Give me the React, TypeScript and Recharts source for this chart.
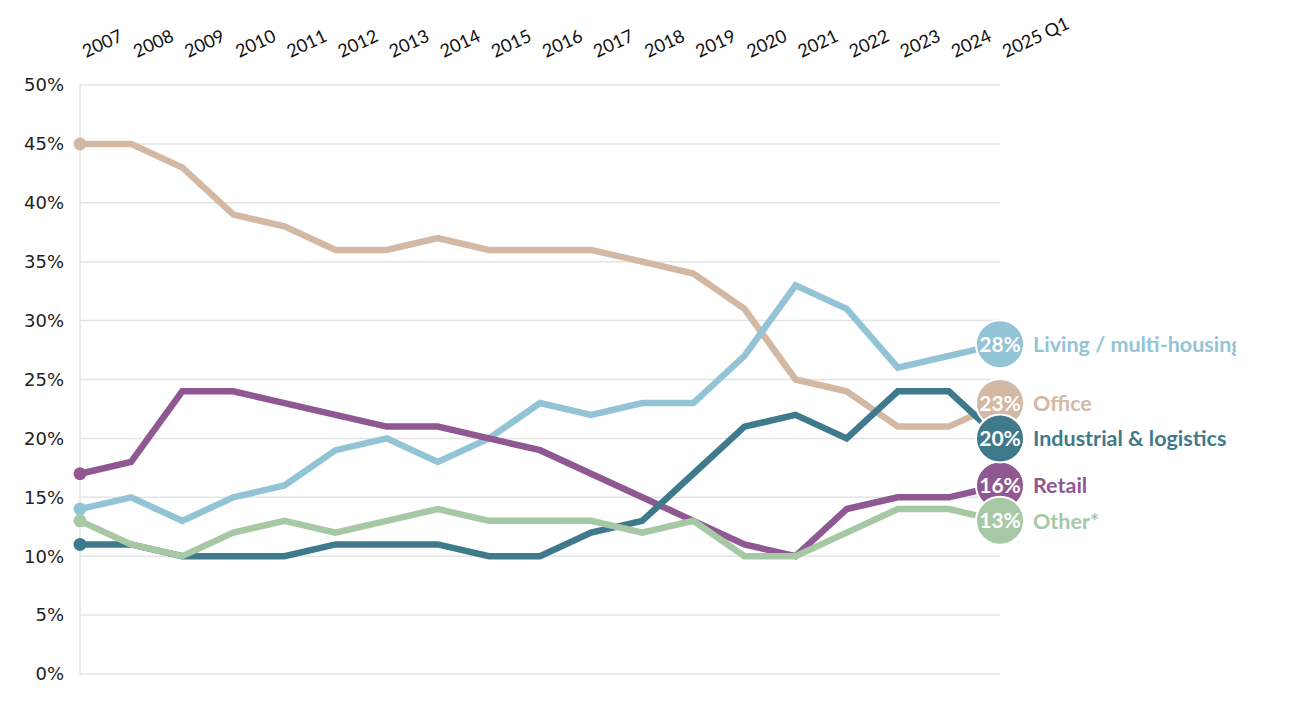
import React from "react";
import { LineChart, Line, XAxis, YAxis, CartesianGrid } from "recharts";

const categories = ["2007","2008","2009","2010","2011","2012","2013","2014","2015","2016","2017","2018","2019","2020","2021","2022","2023","2024","2025 Q1"];
const office = [45,45,43,39,38,36,36,37,36,36,36,35,34,31,25,24,21,21,23];
const living = [14,15,13,15,16,19,20,18,20,23,22,23,23,27,33,31,26,27,28];
const retail = [17,18,24,24,23,22,21,21,20,19,17,15,13,11,10,14,15,15,16];
const industrial = [11,11,10,10,10,11,11,11,10,10,12,13,17,21,22,20,24,24,20];
const other = [13,11,10,12,13,12,13,14,13,13,13,12,13,10,10,12,14,14,13];
const yTicks = [0,5,10,15,20,25,30,35,40,45,50];

const seriesList = [
  { key: "office", name: "Office", color: "#d3b8a4", values: office },
  { key: "living", name: "Living / multi-housing", color: "#93c4d5", values: living },
  { key: "retail", name: "Retail", color: "#8f5892", values: retail },
  { key: "industrial", name: "Industrial & logistics", color: "#3f7a8c", values: industrial },
  { key: "other", name: "Other*", color: "#a6c8a4", values: other },
];

const data = categories.map((c, i) => {
  const row: any = { year: c };
  seriesList.forEach((s) => { row[s.key] = s.values[i]; });
  return row;
});

const FONT = "Lato, 'DejaVu Sans', sans-serif";

const makeDot = (color: string, name: string, last: number, dataKey: string) => (props: any) => {
  const { cx, cy, index } = props;
  if (index === 0) {
    return <circle key={`d-${index}`} cx={cx} cy={cy} r={6.5} fill={color} />;
  }
  if (index === last) {
    const v = data[index][dataKey];
    return (
      <g key={`d-${index}`}>
        <circle cx={cx} cy={cy} r={24} fill={color} stroke="#ffffff" strokeWidth={2} />
        <text x={cx} y={cy} dy="0.36em" textAnchor="middle" fill="#ffffff" fontFamily={FONT} fontWeight={700} fontSize={21}>
          {`${v}%`}
        </text>
        <text x={cx + 33} y={cy} dy="0.36em" textAnchor="start" fill={color} fontFamily={FONT} fontWeight={700} fontSize={21.5}>
          {name}
        </text>
      </g>
    );
  }
  return <g key={`d-${index}`} />;
};

const XTick = (props: any) => {
  const { x, y, payload } = props;
  return (
    <text
      transform={`translate(${x + 6},${y - 19}) rotate(-25)`}
      textAnchor="start"
      fill="#111111"
      fontFamily={FONT}
      fontSize={18}
    >
      {payload.value}
    </text>
  );
};

export default function App() {
  return (
    <div style={{ width: 1228, height: 692 }}>
      <LineChart width={1228} height={692} data={data} margin={{ top: 17, right: 236, bottom: 26, left: 0 }}>
        <CartesianGrid vertical={false} stroke="#e4e4e4" strokeWidth={1.5} />
        <XAxis
          dataKey="year"
          orientation="top"
          height={60}
          axisLine={false}
          tickLine={false}
          interval={0}
          tick={<XTick />}
        />
        <YAxis
          domain={[0, 50]}
          ticks={yTicks}
          width={72}
          axisLine={{ stroke: "#e4e4e4", strokeWidth: 1.5 }}
          tickLine={false}
          tickMargin={10}
          tickFormatter={(v: number) => `${v}%`}
          tick={{ fill: "#222222", fontSize: 18, fontFamily: "'DejaVu Sans', sans-serif" }}
        />
        {seriesList.map((s) => (
          <Line
            key={s.key}
            dataKey={s.key}
            type="linear"
            stroke={s.color}
            strokeWidth={6.5}
            dot={makeDot(s.color, s.name, categories.length - 1, s.key)}
            activeDot={false}
            isAnimationActive={false}
          />
        ))}
      </LineChart>
    </div>
  );
}
